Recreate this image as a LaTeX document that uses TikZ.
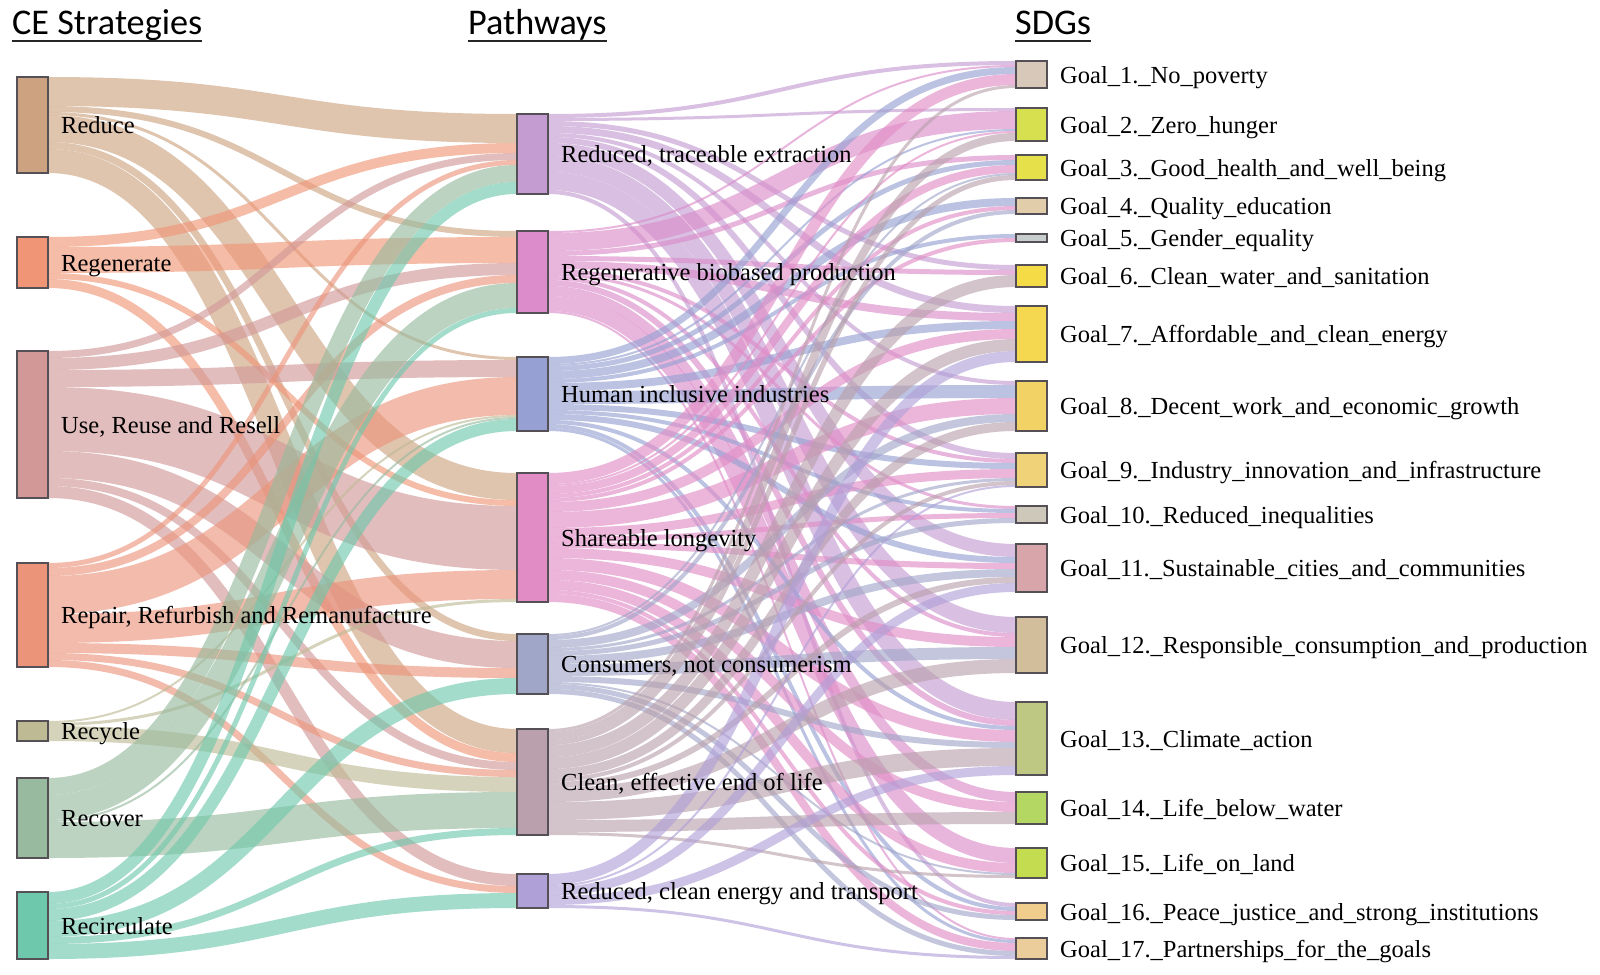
\documentclass[tikz,border=0pt]{standalone}
\usepackage{fontspec}
\setmainfont{Liberation Serif}
\newfontfamily\lbfont{Liberation Serif}
\newfontfamily\hdfont{Carlito}
\pgfdeclarelayer{back}
\pgfdeclarelayer{bg}
\pgfsetlayers{back,bg,main}
\definecolor{boxline}{RGB}{85,80,85}
\definecolor{cred}{RGB}{205,162,128}
\definecolor{creg}{RGB}{240,150,118}
\definecolor{cuse}{RGB}{210,152,152}
\definecolor{crep}{RGB}{236,148,122}
\definecolor{crcy}{RGB}{190,186,148}
\definecolor{crcv}{RGB}{152,186,158}
\definecolor{crci}{RGB}{110,200,172}
\definecolor{cp1}{RGB}{196,156,210}
\definecolor{cp2}{RGB}{220,140,202}
\definecolor{cp3}{RGB}{150,160,210}
\definecolor{cp4}{RGB}{226,140,198}
\definecolor{cp5}{RGB}{160,166,200}
\definecolor{cp6}{RGB}{186,160,172}
\definecolor{cp7}{RGB}{176,160,216}
\definecolor{cg1}{RGB}{215,200,185}
\definecolor{cg2}{RGB}{215,225,80}
\definecolor{cg3}{RGB}{230,225,75}
\definecolor{cg4}{RGB}{225,205,170}
\definecolor{cg5}{RGB}{200,205,205}
\definecolor{cg6}{RGB}{245,220,70}
\definecolor{cg7}{RGB}{245,215,80}
\definecolor{cg8}{RGB}{242,210,100}
\definecolor{cg9}{RGB}{240,210,120}
\definecolor{cg10}{RGB}{205,200,185}
\definecolor{cg11}{RGB}{215,165,170}
\definecolor{cg12}{RGB}{210,190,155}
\definecolor{cg13}{RGB}{190,200,130}
\definecolor{cg14}{RGB}{180,215,100}
\definecolor{cg15}{RGB}{195,220,80}
\definecolor{cg16}{RGB}{240,205,140}
\definecolor{cg17}{RGB}{235,205,155}
\tikzset{
  box/.style={draw=boxline, line width=1.4pt, minimum width=31pt, inner sep=0pt, outer sep=0pt, anchor=north west},
  lab/.style={anchor=base west, inner sep=0pt, font=\lbfont\fontsize{24.5}{26}\selectfont},
  hd/.style={anchor=base west, inner sep=0pt, font=\hdfont\fontsize{36.2}{40}\selectfont},
  uline/.style={line width=1.8pt, black!85},
  flow/.style={line cap=butt, draw opacity=0.63},
}
\makeatletter
\newcommand\skinit[1]{\foreach \n in {#1}{\expandafter\xdef\csname o@\n\endcsname{0}\expandafter\xdef\csname i@\n\endcsname{0}}}
\newcommand\sk[3]{%
  \pgfmathsetmacro\sk@a{\csname o@#1\endcsname+#3/2}%
  \pgfmathsetmacro\sk@b{\csname i@#2\endcsname+#3/2}%
  \draw[flow,draw=c#1,line width=#3pt]
    ([yshift=-\sk@a pt]#1.north east) .. controls +(234,0) and +(-234,0) .. ([yshift=-\sk@b pt]#2.north west);
  \pgfmathsetmacro\sk@a{\csname o@#1\endcsname+#3}%
  \expandafter\xdef\csname o@#1\endcsname{\sk@a}%
  \pgfmathsetmacro\sk@b{\csname i@#2\endcsname+#3}%
  \expandafter\xdef\csname i@#2\endcsname{\sk@b}%
}
\makeatother
\begin{document}
\begin{tikzpicture}[x=1pt,y=-1pt]
\begin{pgfonlayer}{back}
\fill[white] (0,0) rectangle (1600,974);
\end{pgfonlayer}
\useasboundingbox (0,0) rectangle (1600,974);
% headers
\node[hd] (h1) at (12,35) {CE Strategies};
\node[hd] (h2) at (468,35) {Pathways};
\node[hd] (h3) at (1015,35) {SDGs};
\foreach \h in {h1,h2,h3} \draw[uline] ([yshift=-6pt]\h.base west) -- ([yshift=-6pt]\h.base east);
% left nodes
\node[box, fill=cred, minimum height=96pt] (red) at (17,77) {};
\node[box, fill=creg, minimum height=51pt] (reg) at (17,237) {};
\node[box, fill=cuse, minimum height=147pt] (use) at (17,351) {};
\node[box, fill=crep, minimum height=104pt] (rep) at (17,563) {};
\node[box, fill=crcy, minimum height=20pt] (rcy) at (17,721) {};
\node[box, fill=crcv, minimum height=80pt] (rcv) at (17,778) {};
\node[box, fill=crci, minimum height=67pt] (rci) at (17,892) {};
% middle nodes
\node[box, fill=cp1, minimum height=80pt] (p1) at (517,114) {};
\node[box, fill=cp2, minimum height=82pt] (p2) at (517,231) {};
\node[box, fill=cp3, minimum height=74pt] (p3) at (517,357) {};
\node[box, fill=cp4, minimum height=129pt] (p4) at (517,473) {};
\node[box, fill=cp5, minimum height=60pt] (p5) at (517,634) {};
\node[box, fill=cp6, minimum height=106pt] (p6) at (517,729) {};
\node[box, fill=cp7, minimum height=34pt] (p7) at (517,874) {};
% right nodes
\node[box, fill=cg1, minimum height=27pt] (g1) at (1016,61) {};
\node[box, fill=cg2, minimum height=33pt] (g2) at (1016,108) {};
\node[box, fill=cg3, minimum height=25pt] (g3) at (1016,155) {};
\node[box, fill=cg4, minimum height=16pt] (g4) at (1016,198) {};
\node[box, fill=cg5, minimum height=8pt] (g5) at (1016,234) {};
\node[box, fill=cg6, minimum height=22pt] (g6) at (1016,265) {};
\node[box, fill=cg7, minimum height=56pt] (g7) at (1016,306) {};
\node[box, fill=cg8, minimum height=50pt] (g8) at (1016,381) {};
\node[box, fill=cg9, minimum height=34pt] (g9) at (1016,453) {};
\node[box, fill=cg10, minimum height=17pt] (g10) at (1016,506) {};
\node[box, fill=cg11, minimum height=48pt] (g11) at (1016,544) {};
\node[box, fill=cg12, minimum height=56pt] (g12) at (1016,617) {};
\node[box, fill=cg13, minimum height=73pt] (g13) at (1016,702) {};
\node[box, fill=cg14, minimum height=32pt] (g14) at (1016,792) {};
\node[box, fill=cg15, minimum height=30pt] (g15) at (1016,848) {};
\node[box, fill=cg16, minimum height=17pt] (g16) at (1016,903) {};
\node[box, fill=cg17, minimum height=21pt] (g17) at (1016,938) {};
% flows
\skinit{red,reg,use,rep,rcy,rcv,rci,p1,p2,p3,p4,p5,p6,p7,g1,g2,g3,g4,g5,g6,g7,g8,g9,g10,g11,g12,g13,g14,g15,g16,g17}
\begin{pgfonlayer}{bg}
\sk{red}{p1}{29}\sk{red}{p2}{6}\sk{red}{p3}{3}\sk{red}{p4}{27}\sk{red}{p5}{7}\sk{red}{p6}{24}
\sk{reg}{p1}{10}\sk{reg}{p2}{26}\sk{reg}{p4}{6}\sk{reg}{p6}{9}
\sk{use}{p1}{7}\sk{use}{p2}{12}\sk{use}{p3}{17}\sk{use}{p4}{64}\sk{use}{p5}{27}\sk{use}{p6}{8}\sk{use}{p7}{12}
\sk{rep}{p1}{5}\sk{rep}{p2}{8}\sk{rep}{p3}{38}\sk{rep}{p4}{29}\sk{rep}{p5}{10}\sk{rep}{p6}{7}\sk{rep}{p7}{7}
\sk{rcy}{p3}{2}\sk{rcy}{p4}{3}\sk{rcy}{p6}{15}
\sk{rcv}{p1}{17}\sk{rcv}{p2}{25}\sk{rcv}{p3}{2}\sk{rcv}{p6}{36}
\sk{rci}{p1}{12}\sk{rci}{p2}{5}\sk{rci}{p3}{12}\sk{rci}{p5}{16}\sk{rci}{p6}{7}\sk{rci}{p7}{15}
%
\sk{p1}{g1}{4}\sk{p1}{g2}{3}\sk{p1}{g6}{5}\sk{p1}{g7}{7}\sk{p1}{g8}{4}\sk{p1}{g9}{6}\sk{p1}{g11}{13}\sk{p1}{g12}{16}\sk{p1}{g13}{18}\sk{p1}{g16}{4}
\sk{p2}{g1}{2}\sk{p2}{g2}{18}\sk{p2}{g3}{5}\sk{p2}{g6}{5}\sk{p2}{g7}{8}\sk{p2}{g9}{4}\sk{p2}{g10}{3}\sk{p2}{g12}{4}\sk{p2}{g13}{6}\sk{p2}{g14}{10}\sk{p2}{g15}{15}\sk{p2}{g17}{2}
\sk{p3}{g1}{7}\sk{p3}{g2}{2}\sk{p3}{g3}{5}\sk{p3}{g4}{8}\sk{p3}{g5}{4}\sk{p3}{g7}{8}\sk{p3}{g8}{13}\sk{p3}{g9}{6}\sk{p3}{g10}{4}\sk{p3}{g11}{6}\sk{p3}{g13}{4}\sk{p3}{g16}{4}\sk{p3}{g17}{3}
\sk{p4}{g1}{11}\sk{p4}{g2}{2}\sk{p4}{g3}{8}\sk{p4}{g4}{4}\sk{p4}{g5}{4}\sk{p4}{g7}{10}\sk{p4}{g8}{16}\sk{p4}{g9}{9}\sk{p4}{g10}{5}\sk{p4}{g11}{6}\sk{p4}{g12}{10}\sk{p4}{g13}{12}\sk{p4}{g14}{10}\sk{p4}{g15}{10}\sk{p4}{g16}{4}\sk{p4}{g17}{8}
\sk{p5}{g3}{2}\sk{p5}{g4}{4}\sk{p5}{g8}{8}\sk{p5}{g9}{3}\sk{p5}{g10}{5}\sk{p5}{g11}{8}\sk{p5}{g12}{12}\sk{p5}{g13}{6}\sk{p5}{g15}{2}\sk{p5}{g16}{5}\sk{p5}{g17}{5}
\sk{p6}{g1}{3}\sk{p6}{g2}{8}\sk{p6}{g3}{5}\sk{p6}{g6}{12}\sk{p6}{g7}{12}\sk{p6}{g8}{9}\sk{p6}{g9}{4}\sk{p6}{g11}{6}\sk{p6}{g12}{14}\sk{p6}{g13}{18}\sk{p6}{g14}{12}\sk{p6}{g15}{3}
\sk{p7}{g7}{11}\sk{p7}{g9}{2}\sk{p7}{g11}{9}\sk{p7}{g13}{9}\sk{p7}{g17}{3}
\end{pgfonlayer}
% labels
\node[lab] (lred) at ([xshift=13pt,yshift=-8.5pt]red.east) {Reduce};
\node[lab] (lreg) at ([xshift=13pt,yshift=-8.5pt]reg.east) {Regenerate};
\node[lab] (luse) at ([xshift=13pt,yshift=-8.5pt]use.east) {Use, Reuse and Resell};
\node[lab] (lrep) at ([xshift=13pt,yshift=-8.5pt]rep.east) {Repair, Refurbish and Remanufacture};
\node[lab] (lrcy) at ([xshift=13pt,yshift=-8.5pt]rcy.east) {Recycle};
\node[lab] (lrcv) at ([xshift=13pt,yshift=-8.5pt]rcv.east) {Recover};
\node[lab] (lrci) at ([xshift=13pt,yshift=-8.5pt]rci.east) {Recirculate};
\node[lab] (lp1) at ([xshift=13pt,yshift=-8.5pt]p1.east) {Reduced, traceable extraction};
\node[lab] (lp2) at ([xshift=13pt,yshift=-8.5pt]p2.east) {Regenerative biobased production};
\node[lab] (lp3) at ([xshift=13pt,yshift=-8.5pt]p3.east) {Human inclusive industries};
\node[lab] (lp4) at ([xshift=13pt,yshift=-8.5pt]p4.east) {Shareable longevity};
\node[lab] (lp5) at ([xshift=13pt,yshift=-8.5pt]p5.east) {Consumers, not consumerism};
\node[lab] (lp6) at ([xshift=13pt,yshift=-8.5pt]p6.east) {Clean, effective end of life};
\node[lab] (lp7) at ([xshift=13pt,yshift=-8.5pt]p7.east) {Reduced, clean energy and transport};
\node[lab] (lg1) at ([xshift=13pt,yshift=-8.5pt]g1.east) {Goal\_1.\_No\_poverty};
\node[lab] (lg2) at ([xshift=13pt,yshift=-8.5pt]g2.east) {Goal\_2.\_Zero\_hunger};
\node[lab] (lg3) at ([xshift=13pt,yshift=-8.5pt]g3.east) {Goal\_3.\_Good\_health\_and\_well\_being};
\node[lab] (lg4) at ([xshift=13pt,yshift=-8.5pt]g4.east) {Goal\_4.\_Quality\_education};
\node[lab] (lg5) at ([xshift=13pt,yshift=-8.5pt]g5.east) {Goal\_5.\_Gender\_equality};
\node[lab] (lg6) at ([xshift=13pt,yshift=-8.5pt]g6.east) {Goal\_6.\_Clean\_water\_and\_sanitation};
\node[lab] (lg7) at ([xshift=13pt,yshift=-8.5pt]g7.east) {Goal\_7.\_Affordable\_and\_clean\_energy};
\node[lab] (lg8) at ([xshift=13pt,yshift=-8.5pt]g8.east) {Goal\_8.\_Decent\_work\_and\_economic\_growth};
\node[lab] (lg9) at ([xshift=13pt,yshift=-8.5pt]g9.east) {Goal\_9.\_Industry\_innovation\_and\_infrastructure};
\node[lab] (lg10) at ([xshift=13pt,yshift=-8.5pt]g10.east) {Goal\_10.\_Reduced\_inequalities};
\node[lab] (lg11) at ([xshift=13pt,yshift=-8.5pt]g11.east) {Goal\_11.\_Sustainable\_cities\_and\_communities};
\node[lab] (lg12) at ([xshift=13pt,yshift=-8.5pt]g12.east) {Goal\_12.\_Responsible\_consumption\_and\_production};
\node[lab] (lg13) at ([xshift=13pt,yshift=-8.5pt]g13.east) {Goal\_13.\_Climate\_action};
\node[lab] (lg14) at ([xshift=13pt,yshift=-8.5pt]g14.east) {Goal\_14.\_Life\_below\_water};
\node[lab] (lg15) at ([xshift=13pt,yshift=-8.5pt]g15.east) {Goal\_15.\_Life\_on\_land};
\node[lab] (lg16) at ([xshift=13pt,yshift=-8.5pt]g16.east) {Goal\_16.\_Peace\_justice\_and\_strong\_institutions};
\node[lab] (lg17) at ([xshift=13pt,yshift=-8.5pt]g17.east) {Goal\_17.\_Partnerships\_for\_the\_goals};
\end{tikzpicture}
\end{document}
